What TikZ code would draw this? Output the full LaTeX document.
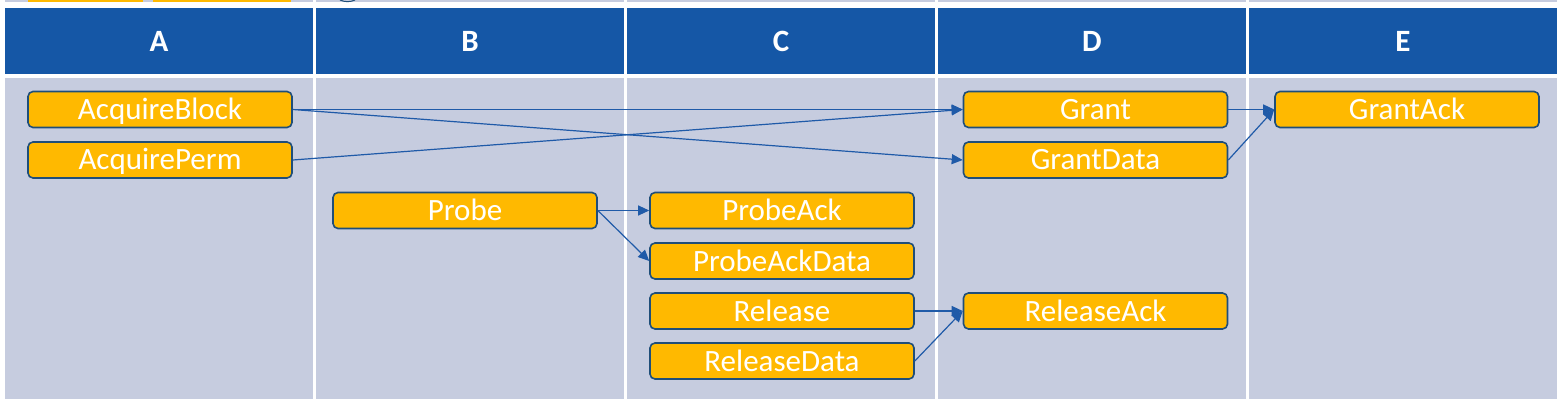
\documentclass[tikz,border=0pt]{standalone}
\usepackage{fontspec}
\setmainfont{Carlito}
\usetikzlibrary{arrows.meta}
\definecolor{hdr}{HTML}{1557A6}
\definecolor{cell}{HTML}{C6CCDF}
\definecolor{boxfill}{HTML}{FFB900}
\definecolor{boxline}{HTML}{1F4E79}
\definecolor{arr}{HTML}{1F5AA8}
\tikzset{
  hdrcell/.style={fill=hdr},
  bodycell/.style={fill=cell},
  hdrtext/.style={text=white,font=\fontsize{31}{36}\selectfont\bfseries,inner sep=0pt,text height=21pt,text depth=0pt},
  msgbox/.style={draw=boxline,line width=1.6pt,fill=boxfill,rounded corners=5pt,
    minimum width=264pt,minimum height=36pt,inner sep=0pt,text=white,
    font=\fontsize{31}{36}\selectfont,text height=20pt,text depth=0pt},
  conn/.style={draw=arr,line width=1.2pt,-{Triangle[length=11pt,width=10pt]}}
}
\begin{document}
\begin{tikzpicture}[x=1pt,y=-1pt]
\useasboundingbox (0,0) rectangle (1562,406);
\fill[white] (0,0) rectangle (1562,406);
% slivers of the row above
\foreach \i in {0,...,4}{
  \fill[bodycell] ({5+\i*311},0) rectangle ({5+\i*311+308},2);
}
\fill[boxfill] (28,0) rectangle (143,2);
\fill[boxfill] (153,0) rectangle (291,2);
\draw[boxline,line width=1pt] (340,0) .. controls (345,2.2) and (350,2.2) .. (355,0);
% header and body cells
\foreach \i/\t in {0/A,1/B,2/C,3/D,4/E}{
  \fill[hdrcell] ({5+\i*311},8) rectangle ({5+\i*311+308},74);
  \fill[bodycell] ({5+\i*311},78) rectangle ({5+\i*311+308},399);
  \node[hdrtext] (h\t) at ({5+\i*311+154},41) {\t};
}
% message boxes
\node[msgbox] (ab)  at (160,109.5) {AcquireBlock};
\node[msgbox] (ap)  at (160,160)   {AcquirePerm};
\node[msgbox] (pr)  at (465,210.5) {Probe};
\node[msgbox] (pa)  at (782,210.5) {ProbeAck};
\node[msgbox] (pad) at (782,261)   {ProbeAckData};
\node[msgbox] (rl)  at (782,311)   {Release};
\node[msgbox] (rld) at (782,361)   {ReleaseData};
\node[msgbox] (gr)  at (1095.5,109.5) {Grant};
\node[msgbox] (grd) at (1095.5,160)   {GrantData};
\node[msgbox] (rla) at (1095.5,311)   {ReleaseAck};
\node[msgbox] (ga)  at (1407,109.5)   {GrantAck};
% connectors
\draw[conn] (ab.east) -- (gr.west);
\draw[conn] (ab.east) -- (grd.west);
\draw[conn] (ap.east) -- (gr.west);
\draw[conn] (gr.east) -- (ga.west);
\draw[conn] (grd.east) -- (ga.west);
\draw[conn] (pr.east) -- (pa.west);
\draw[conn] (pr.east) -- (pad.west);
\draw[conn] (rl.east) -- (rla.west);
\draw[conn] (rld.east) -- (rla.west);
\end{tikzpicture}
\end{document}
